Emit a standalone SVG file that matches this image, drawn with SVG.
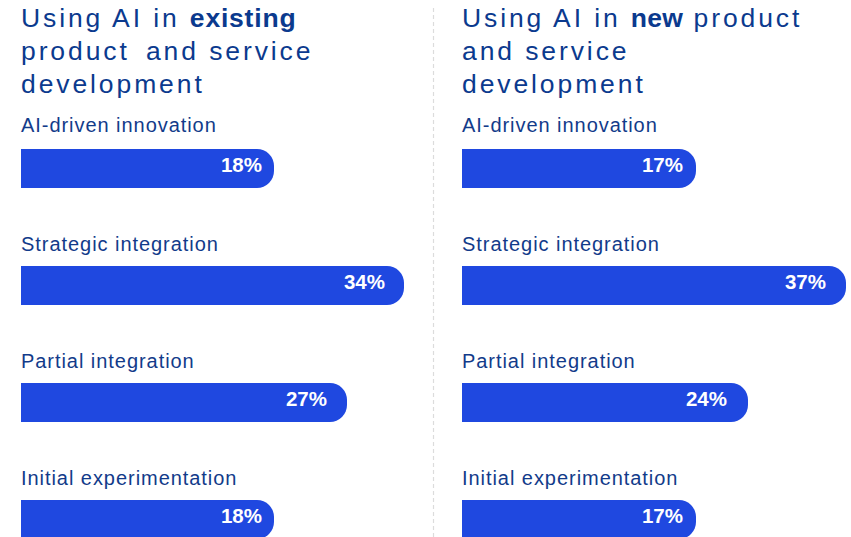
<svg xmlns="http://www.w3.org/2000/svg" width="851" height="537" viewBox="0 0 851 537">
<style>
.title{font-family:"Liberation Sans",Arial,sans-serif;font-size:26.5px;fill:#0b3a8e;letter-spacing:2.9px}
.b{font-weight:bold;letter-spacing:0.8px}
.lbl{font-family:"Liberation Sans",Arial,sans-serif;font-size:20px;fill:#123b8a;letter-spacing:0.95px}
.bar{fill:#1f48e0}
.pct{font-family:"Liberation Sans",Arial,sans-serif;font-size:20.5px;font-weight:bold;fill:#ffffff;text-anchor:end}
.div{stroke:#dcdcdc;stroke-width:1.2;stroke-dasharray:4 3;fill:none}
</style>
<rect width="851" height="537" fill="#ffffff"/>
<g id="divider"><line class="div" x1="433.5" y1="8" x2="433.5" y2="537"/></g>
<g id="title-existing">
<text class="title" x="21" y="27">Using AI in <tspan class="b">existing</tspan></text>
<text class="title" x="21" y="60">product <tspan dx="6">and service</tspan></text>
<text class="title" x="21" y="93">development</text>
</g>
<g id="title-new">
<text class="title" x="462" y="27">Using AI in <tspan class="b" style="letter-spacing:0.3px">new</tspan> product</text>
<text class="title" x="462" y="60">and service</text>
<text class="title" x="462" y="93">development</text>
</g>
<g id="left-ai-driven">
<text class="lbl" x="21" y="131.5">AI-driven innovation</text>
<path class="bar" d="M21 149H257A17 17 0 0 1 274 166V171A17 17 0 0 1 257 188H21Z"/>
<text class="pct" x="262" y="172">18%</text>
</g>
<g id="left-strategic">
<text class="lbl" x="21" y="250.5">Strategic integration</text>
<path class="bar" d="M21 266H387A17 17 0 0 1 404 283V288A17 17 0 0 1 387 305H21Z"/>
<text class="pct" x="385" y="289">34%</text>
</g>
<g id="left-partial">
<text class="lbl" x="21" y="367.5">Partial integration</text>
<path class="bar" d="M21 383H330A17 17 0 0 1 347 400V405A17 17 0 0 1 330 422H21Z"/>
<text class="pct" x="327" y="406">27%</text>
</g>
<g id="left-initial">
<text class="lbl" x="21" y="484.5">Initial experimentation</text>
<path class="bar" d="M21 500H257A17 17 0 0 1 274 517V522A17 17 0 0 1 257 539H21Z"/>
<text class="pct" x="262" y="523">18%</text>
</g>
<g id="right-ai-driven">
<text class="lbl" x="462" y="131.5">AI-driven innovation</text>
<path class="bar" d="M462 149H679A17 17 0 0 1 696 166V171A17 17 0 0 1 679 188H462Z"/>
<text class="pct" x="683" y="172">17%</text>
</g>
<g id="right-strategic">
<text class="lbl" x="462" y="250.5">Strategic integration</text>
<path class="bar" d="M462 266H829A17 17 0 0 1 846 283V288A17 17 0 0 1 829 305H462Z"/>
<text class="pct" x="826" y="289">37%</text>
</g>
<g id="right-partial">
<text class="lbl" x="462" y="367.5">Partial integration</text>
<path class="bar" d="M462 383H731A17 17 0 0 1 748 400V405A17 17 0 0 1 731 422H462Z"/>
<text class="pct" x="727" y="406">24%</text>
</g>
<g id="right-initial">
<text class="lbl" x="462" y="484.5">Initial experimentation</text>
<path class="bar" d="M462 500H679A17 17 0 0 1 696 517V522A17 17 0 0 1 679 539H462Z"/>
<text class="pct" x="683" y="523">17%</text>
</g>
</svg>
